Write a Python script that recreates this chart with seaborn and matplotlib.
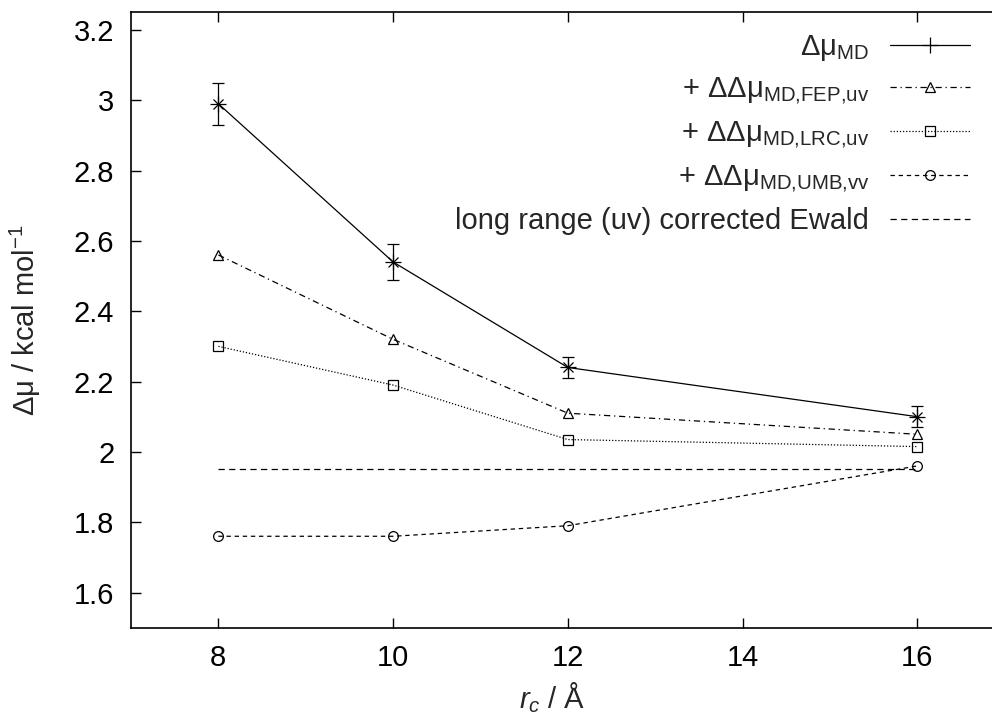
import numpy as np
import pandas as pd
import matplotlib
matplotlib.use("Agg")
import matplotlib.pyplot as plt
from matplotlib.ticker import FormatStrFormatter, MultipleLocator
import seaborn as sns

# cutoff radius r_c (Angstrom)
rc = [8, 10, 12, 16]
mu_md = [2.99, 2.54, 2.24, 2.10]
mu_md_err = [0.06, 0.05, 0.03, 0.03]
mu_fep = [2.56, 2.32, 2.11, 2.05]
mu_lrc = [2.30, 2.19, 2.035, 2.015]
mu_umb = [1.76, 1.76, 1.79, 1.96]
ewald_x = [8, 16]
ewald_y = [1.95, 1.95]

labels = [r"Δμ$_{\mathrm{MD}}$",
          r"+ ΔΔμ$_{\mathrm{MD{,}FEP{,}uv}}$",
          r"+ ΔΔμ$_{\mathrm{MD{,}LRC{,}uv}}$",
          r"+ ΔΔμ$_{\mathrm{MD{,}UMB{,}vv}}$",
          "long range (uv) corrected Ewald"]

sns.set_style("ticks")
plt.rcParams["font.family"] = ["Liberation Sans", "DejaVu Sans"]
plt.rcParams["mathtext.fontset"] = "custom"
plt.rcParams["mathtext.rm"] = "Liberation Sans"
plt.rcParams["mathtext.it"] = "Liberation Sans:italic"
fs = 21
plt.rcParams["font.size"] = fs

fig = plt.figure(figsize=(9.92, 7.15), dpi=100)
# axes box runs past the right edge of the figure, like the cropped original
ax = fig.add_axes([131/992, 1-627.7/715, 873.7/992, 615.4/715])

lw = 0.9
sns.lineplot(x=rc, y=mu_md, ax=ax, color="k", lw=lw, marker="+", ms=11,
             mec="k", mew=lw, linestyle="-", label=labels[0])
ax.errorbar(rc, mu_md, yerr=mu_md_err, fmt="x", color="k", ms=7, mew=lw,
            elinewidth=lw, capsize=4, capthick=lw)
sns.lineplot(x=rc, y=mu_fep, ax=ax, color="k", lw=lw, marker="^", ms=7,
             mfc="none", mec="k", mew=lw, linestyle=(0, (5, 3, 1, 3)),
             label=labels[1])
sns.lineplot(x=rc, y=mu_lrc, ax=ax, color="k", lw=lw, marker="s", ms=7,
             mfc="none", mec="k", mew=lw, linestyle=(0, (1, 1.5)),
             label=labels[2])
sns.lineplot(x=rc, y=mu_umb, ax=ax, color="k", lw=lw, marker="o", ms=7,
             mfc="none", mec="k", mew=lw, linestyle=(0, (3.5, 3)),
             label=labels[3])
sns.lineplot(x=ewald_x, y=ewald_y, ax=ax, color="k", lw=lw,
             linestyle=(0, (5, 3.5)), label=labels[4])

ax.set_xlim(7, 17)
ax.set_ylim(1.5, 3.25)
ax.xaxis.set_major_locator(MultipleLocator(2))
ax.yaxis.set_major_locator(MultipleLocator(0.2))
ax.yaxis.set_major_formatter(FormatStrFormatter("%g"))
ax.tick_params(direction="in", length=7, width=1, top=True, right=False,
               labelsize=fs, pad=12, colors="k")
for s in ax.spines.values():
    s.set_linewidth(1.2)
    s.set_color("k")

ax.set_xlabel(r"$r_c$ / Å", fontsize=fs)
ax.xaxis.set_label_coords(0.482, -0.085)
ax.set_ylabel(r"Δμ / kcal mol$^{-1}$", fontsize=fs)
ax.yaxis.set_label_coords(-0.101, 0.5)

ax.legend(loc="upper right", bbox_to_anchor=(970/992, 1-33/715),
          bbox_transform=fig.transFigure, frameon=False, markerfirst=False,
          handlelength=2.75, handletextpad=0.7, labelspacing=0.43,
          borderaxespad=0, borderpad=0, fontsize=fs)

fig.savefig("out.png", dpi=100)
